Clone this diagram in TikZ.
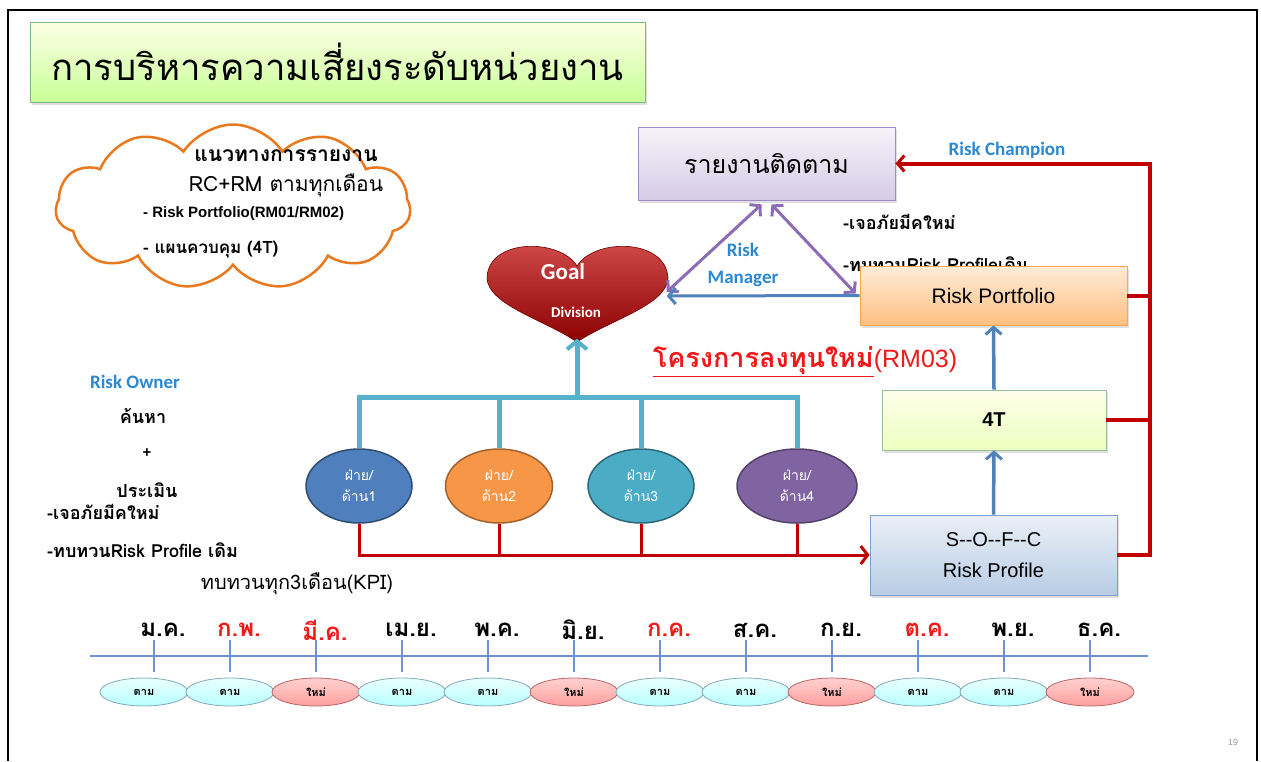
\documentclass[tikz,border=0pt]{standalone}
\usepackage{fontspec}
\setmainfont{Liberation Sans}
\newfontfamily\thf[Script=Thai]{Loma}
\newfontfamily\calf{Carlito}
\usetikzlibrary{arrows.meta,shapes.geometric,shapes.symbols,shadows,calc}
\definecolor{frameblack}{HTML}{000000}
\definecolor{cloudorange}{HTML}{E8791E}
\definecolor{rcred}{HTML}{C00000}
\definecolor{thred}{HTML}{F01818}
\definecolor{tealline}{HTML}{56B2CB}
\definecolor{purpleline}{HTML}{8A6DB6}
\definecolor{bluearr}{HTML}{4F81BD}
\definecolor{labelblue}{HTML}{2B88D2}
\definecolor{tlblue}{HTML}{6E93CF}
\definecolor{ovorange}{HTML}{F79646}
\definecolor{ovteal}{HTML}{4BACC6}
\definecolor{ovpurple}{HTML}{8064A2}
\definecolor{ovblue}{HTML}{4F7FBD}
\begin{document}
\begin{tikzpicture}[x=1pt,y=-1pt,
  box/.style={draw, line width=0.8pt, rectangle, inner sep=0pt,
    drop shadow={opacity=0.25,shadow xshift=2pt,shadow yshift=-3pt}},
  titlebox/.style={box, draw=green!45!black!50, top color=green!8!yellow!10!white, bottom color=green!25!yellow!30!white!85!green},
  lavbox/.style={box, draw=purpleline!80, top color=purpleline!8, bottom color=purpleline!35},
  orbox/.style={box, draw=orange!70, top color=orange!15, bottom color=orange!50},
  grbox/.style={box, draw=green!40!black!40, top color=green!7!yellow!8!white, bottom color=green!30!yellow!25!white},
  blbox/.style={box, draw=bluearr!75, top color=bluearr!12, bottom color=bluearr!40},
  oval/.style={ellipse, line width=1.5pt, text=white, align=center, inner sep=0pt,
    font=\thf\fontsize{14}{21}\selectfont},
  pillold/.style={ellipse, draw=cyan!50!black!60, line width=0.8pt, top color=cyan!8, bottom color=cyan!28,
    minimum width=88pt, minimum height=28pt, inner sep=0pt, font=\thf\bfseries\fontsize{11}{11}\selectfont},
  pillnew/.style={ellipse, draw=red!55!black!60, line width=0.8pt, top color=red!18, bottom color=red!38,
    minimum width=88pt, minimum height=28pt, inner sep=0pt, font=\thf\bfseries\fontsize{11}{11}\selectfont},
  month/.style={font=\thf\bfseries\fontsize{24}{24}\selectfont, inner sep=0pt},
  bluelabel/.style={text=labelblue, font=\calf\bfseries\fontsize{19}{19}\selectfont, inner sep=0pt},
  thtext/.style={font=\thf\bfseries\fontsize{18}{18}\selectfont, inner sep=0pt},
  redline/.style={draw=rcred, line width=4pt},
  redthin/.style={draw=rcred, line width=3pt},
  barb/.style={-{Straight Barb[length=7pt,width=16pt,line width=3pt]}},
  dbarb/.style={{Straight Barb[length=7pt,width=16pt,line width=3pt]}-{Straight Barb[length=7pt,width=16pt,line width=3pt]}},
  tickline/.style={draw=tlblue, line width=1.2pt}
]
\useasboundingbox (0,0) rectangle (1261,761);
\fill[white] (0,0) rectangle (1261,761);
\draw[frameblack, line width=2pt] (8,761) -- (8,10) -- (1257,10) -- (1257,761);

% title
\node[titlebox, minimum width=615pt, minimum height=80pt] (title) at (337.5,62)
  {\thf\fontsize{36.5}{36.5}\selectfont การบริหารความเสี่ยงระดับหน่วยงาน};

% cloud
\node[cloud, cloud puffs=11, cloud puff arc=115, aspect=2.2, draw=cloudorange, line width=2.5pt,
  minimum width=355pt, minimum height=165pt] (cloud) at (233,207) {};
\node[font=\thf\bfseries\fontsize{21}{21}\selectfont, inner sep=0pt] (c1) at (286,156) {แนวทางการรายงาน};
\node[font=\thf\fontsize{21}{21}\selectfont, inner sep=0pt] (c2) at (286,185) {RC+RM ตามทุกเดือน};
\node[font=\bfseries\fontsize{15}{15}\selectfont, inner sep=0pt, anchor=west] (c3) at (143,214) {- Risk Portfolio(RM01/RM02)};
\node[font=\thf\bfseries\fontsize{17}{17}\selectfont, inner sep=0pt, anchor=west] (c4) at (143,250) {- แผนควบคุม (4T)};

% report box
\node[lavbox, minimum width=257pt, minimum height=73pt] (rep) at (766.5,163.5)
  {\thf\fontsize{25}{25}\selectfont รายงานติดตาม};

% annotations near portfolio (partly hidden)
\node[thtext, anchor=west] (n1) at (843,222) {-เจอภัยมีคใหม่};
\node[thtext, anchor=west] (n2) at (843,264) {-ทบทวนRisk Profileเดิม};

% risk portfolio
\node[orbox, minimum width=267pt, minimum height=59pt] (port) at (993.5,295.5)
  {\fontsize{21}{21}\selectfont Risk Portfolio};

% heart
\node[minimum width=181pt, minimum height=97pt, inner sep=0pt] (goal) at (577,290) {};
\path[top color=red!75!black!70!white, bottom color=red!55!black, draw=red!45!black, line width=0.6pt]
  (577,266) .. controls (560,238) and (488,238) .. (487,278)
  .. controls (488,305) and (545,320) .. (577,342)
  .. controls (610,320) and (667,305) .. (668,278)
  .. controls (666,238) and (594,238) .. (577,266) -- cycle;
\node[text=white, font=\calf\bfseries\fontsize{23}{23}\selectfont, inner sep=0pt] (goalt) at (563,272) {Goal};
\node[text=white, font=\calf\bfseries\fontsize{15}{15}\selectfont, inner sep=0pt] (divt) at (576,312) {Division};

% triangle
\draw[purpleline, line width=3pt, dbarb] ($(rep.south)+(-5,4)$) -- ($(goal.east)+(-1,2)$);
\draw[purpleline, line width=3pt, dbarb] ($(rep.south)+(5,4)$) -- ($(port.west)+(-4,-2)$);
\draw[bluearr, line width=3pt, barb] (port.west) -- ($(goal.east)+(-1,6)$);
\node[bluelabel] (rm1) at (743,250) {Risk};
\node[bluelabel] (rm2) at (743,279) {Manager};

% headline
\node[inner sep=0pt, text=thred] (head) at (805,362)
  {\thf\bfseries\fontsize{27}{27}\selectfont\underline{โครงการลงทุนใหม่}\normalfont\fontsize{25}{25}\selectfont(RM03)};

% 4T and SOFC
\node[grbox, minimum width=224pt, minimum height=60pt] (t4) at (994,420)
  {\bfseries\fontsize{20}{20}\selectfont 4T};
\node[blbox, minimum width=247pt, minimum height=80pt, align=center, font=\fontsize{20}{31}\selectfont] (sofc) at (993.5,555)
  {S-{}-O-{}-F-{}-C\\ Risk Profile};
\draw[bluearr, line width=3.5pt, barb] (sofc.north) -- (t4.south);
\draw[bluearr, line width=3.5pt, barb] (t4.north) -- (port.south);

% risk champion red lines
\coordinate (rtop) at (1150,160);
\draw[redline, barb] (sofc.east) -- (sofc.east -| rtop) -- (rep.east -| rtop) -- (rep.east);
\draw[redline] (port.east) -- (port.east -| rtop);
\draw[redline] (t4.east) -- (t4.east -| rtop);
\node[bluelabel] (champ) at (1007,150) {Risk Champion};

% division ovals
\node[oval, draw=ovblue!60!black, fill=ovblue, minimum width=106pt, minimum height=74pt] (e1) at (359,486) {ฝ่าย/\\ด้าน1};
\node[oval, draw=ovorange!65!black, fill=ovorange, minimum width=107pt, minimum height=74pt] (e2) at (499,486) {ฝ่าย/\\ด้าน2};
\node[oval, draw=ovteal!60!black, fill=ovteal, minimum width=106pt, minimum height=74pt] (e3) at (641,486) {ฝ่าย/\\ด้าน3};
\node[oval, draw=ovpurple!65!black, fill=ovpurple, minimum width=120pt, minimum height=74pt] (e4) at (797,486) {ฝ่าย/\\ด้าน4};

% teal connectors
\coordinate (hy) at (577,397);
\draw[tealline, line width=5pt] (e1.north) -- (e1.north |- hy) -- (e4.north |- hy) -- (e4.north);
\draw[tealline, line width=5pt] (e2.north) -- (e2.north |- hy);
\draw[tealline, line width=5pt] (e3.north) -- (e3.north |- hy);
\draw[tealline, line width=5pt, -{Straight Barb[length=8pt,width=20pt,line width=4pt]}] (hy) -- (goal.south);

% red bottom connectors
\draw[redthin, -{Straight Barb[length=7pt,width=18pt,line width=3pt]}] (e1.south) -- (e1.south |- sofc.west) -- (sofc.west);
\draw[redthin] (e2.south) -- (e2.south |- sofc.west);
\draw[redthin] (e3.south) -- (e3.south |- sofc.west);
\draw[redthin] (e4.south) -- (e4.south |- sofc.west);

% left texts
\node[bluelabel] (owner) at (135,382) {Risk Owner};
\node[thtext] (l1) at (143,416) {ค้นหา};
\node[font=\bfseries\fontsize{15}{15}\selectfont, inner sep=0pt] (l2) at (147,453) {+};
\node[thtext] (l3) at (147,490) {ประเมิน};
\node[thtext, anchor=west] (l4) at (47,512) {-เจอภัยมีคใหม่};
\node[thtext, anchor=west] (l5) at (47,550) {-ทบทวนRisk Profile เดิม};
\node[font=\thf\fontsize{20}{20}\selectfont, inner sep=0pt] (l6) at (297,584) {ทบทวนทุก3เดือน(KPI)};

% timeline
\coordinate (tl0) at (90,656);
\coordinate (tl1) at (1148,656);
\draw[tickline] (tl0) -- (tl1);
\foreach \lab/\col/\pl/\kind [count=\k from 0] in {
  ม.ค./black/ตาม/old, ก.พ./thred/ตาม/old, มี.ค./thred/ใหม่/new, เม.ย./black/ตาม/old,
  พ.ค./black/ตาม/old, มิ.ย./black/ใหม่/new, ก.ค./thred/ตาม/old, ส.ค./black/ตาม/old,
  ก.ย./black/ใหม่/new, ต.ค./thred/ตาม/old, พ.ย./black/ตาม/old, ธ.ค./black/ใหม่/new}
{
  \pgfmathsetmacro\ex{144+86*\k}
  \pgfmathsetmacro\tkx{\k==0 ? 154 : 144+86*\k}
  \node[pill\kind] (p\k) at (\ex,692) {\pl};
  \coordinate (tk\k) at (\tkx,640);
  \coordinate (tb\k) at (\tkx,672);
  \draw[tickline] (tk\k) -- (tb\k);
  \node[month, text=\col] (m\k) at (\tkx+9,630) {\lab};
}

\node[text=black!40, font=\fontsize{9}{9}\selectfont, inner sep=0pt] (pg) at (1233,742) {19};
\end{tikzpicture}
\end{document}
